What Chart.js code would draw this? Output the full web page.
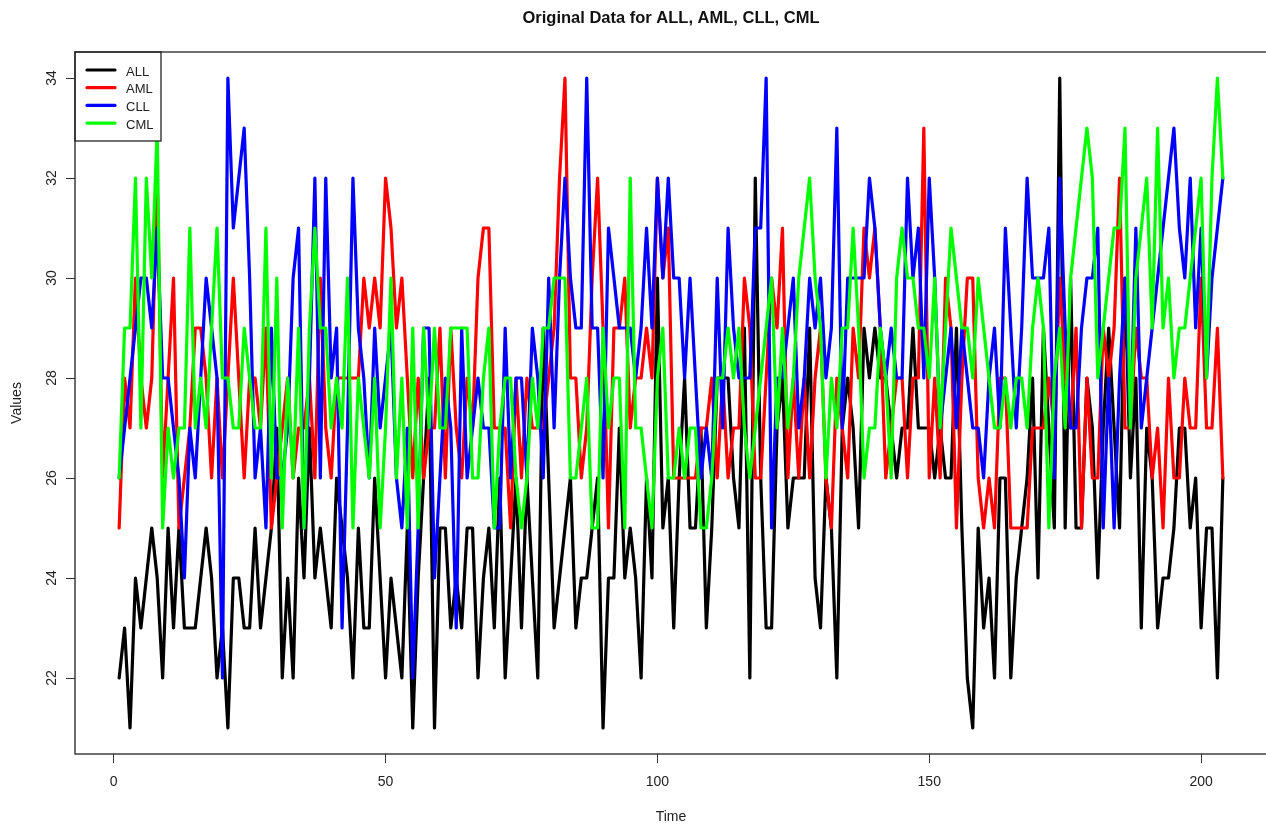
<!DOCTYPE html>
<html lang="en">
  <head>
    <meta charset="UTF-8" />
    <title>Original Data for ALL, AML, CLL, CML</title>
    <style>
      html,
      body {
        margin: 0;
        background: #fff;
        overflow: hidden;
      }
      canvas {
        display: block;
      }
    </style>
  </head>
  <body>
    <canvas id="chart_id" width="1270" height="825"></canvas>
    <script src="https://cdn.jsdelivr.net/npm/chart.js@4/dist/chart.umd.min.js"></script>
    <script>
      const all = [
        22,23,21,24,23,24,25,24,22,25, 23,25,23,23,23,24,25,24,22,23,
        21,24,24,23,23,25,23,24,25,27, 22,24,22,26,24,27,24,25,24,23,
        26,25,24,22,25,23,23,26,24,22, 24,23,22,25,21,24,26,28,21,25,
        25,23,24,23,25,25,22,24,25,23, 26,22,24,26,23,26,24,22,29,26,
        23,24,25,26,23,24,24,25,26,21, 24,24,27,24,25,24,22,26,24,30,
        25,26,23,26,28,25,25,27,23,25, 28,28,28,26,25,29,22,32,26,23,
        23,27,28,25,26,26,26,29,24,23, 26,25,22,27,28,27,25,29,28,29,
        28,28,27,26,27,27,29,27,27,27, 26,27,26,26,29,25,22,21,25,23,
        24,22,26,26,22,24,25,26,28,24, 29,27,25,34,25,30,25,25,28,27,
        24,27,29,27,25,30,26,28,23,27, 26,23,24,24,25,27,27,25,26,23,
        25,25,22,26
      ];
      const aml = [
        25,28,27,30,28,27,28,32,26,28, 30,25,26,27,29,29,28,26,28,26,
        28,30,28,26,28,28,27,29,25,26, 27,28,26,27,27,28,26,30,27,26,
        28,28,28,28,28,30,29,30,29,32, 31,29,30,28,26,28,26,27,27,29,
        26,29,27,26,28,27,30,31,31,27, 27,27,25,28,26,28,27,27,27,28,
        29,32,34,28,28,26,27,30,32,29, 25,29,29,30,27,28,28,29,28,32,
        30,31,26,26,26,26,26,27,27,28, 26,28,26,27,27,30,29,26,26,28,
        30,29,31,26,28,26,28,26,28,29, 26,25,28,27,26,29,28,31,30,31,
        29,26,27,28,28,26,28,28,33,26, 28,26,30,29,25,28,30,30,26,25,
        26,25,28,28,25,25,25,25,27,27, 27,28,27,30,28,27,29,25,28,26,
        26,29,28,29,32,27,27,29,28,28, 26,27,25,28,26,26,28,27,27,30,
        27,27,29,26
      ];
      const cll = [
        26,27,28,29,30,30,29,31,28,28, 27,26,24,27,26,28,30,29,28,22,
        34,31,32,33,30,26,27,25,29,26, 26,27,30,31,25,28,32,26,32,28,
        29,23,27,32,29,28,26,29,27,28, 29,26,25,27,22,25,29,29,24,26,
        28,27,23,29,26,27,28,27,27,25, 25,29,26,28,28,26,29,28,26,30,
        27,30,32,30,29,29,34,29,29,26, 31,30,29,29,29,28,29,31,29,32,
        30,32,30,30,28,30,28,26,27,26, 30,27,31,29,28,28,28,31,31,34,
        25,28,28,29,30,27,28,30,29,30, 28,29,33,27,30,30,30,30,32,31,
        29,28,29,28,28,32,30,31,28,32, 30,27,28,29,27,29,28,27,27,26,
        28,29,27,31,29,27,29,32,30,30, 30,31,26,32,29,27,27,29,30,30,
        31,25,28,25,28,30,27,31,27,28, 29,30,31,32,33,31,30,32,29,31,
        28,30,31,32
      ];
      const cml = [
        26,29,29,32,27,32,30,33,25,27, 26,27,27,31,27,28,27,29,31,28,
        28,27,27,29,28,27,27,31,26,30, 25,28,26,29,25,29,31,29,29,27,
        28,27,30,25,28,27,26,28,25,27, 30,26,28,25,29,25,29,27,29,27,
        27,29,29,29,29,26,26,28,29,25, 27,28,28,26,25,26,28,27,29,29,
        30,30,30,26,26,27,28,25,25,29, 27,28,28,25,32,27,27,26,25,28,
        29,26,26,27,26,27,27,25,25,26, 28,28,29,28,29,27,26,27,28,29,
        30,27,29,27,28,30,31,32,30,29, 26,28,27,29,29,31,29,26,27,27,
        29,28,26,30,31,30,30,29,29,28, 30,27,29,31,30,29,29,28,30,29,
        28,27,27,28,27,28,28,27,29,30, 29,25,28,29,27,30,31,32,33,32,
        28,29,30,31,31,33,27,30,31,32, 29,33,29,30,28,29,29,30,31,32,
        28,32,34,32
      ];
      const time = all.map((v, i) => i + 1);
      const xTicks = [0, 50, 100, 150, 200];
      const yTicks = [22, 24, 26, 28, 30, 32, 34];
      const names = ["ALL", "AML", "CLL", "CML"];
      const colors = ["#000000", "#ff0000", "#0000ff", "#00ff00"];
      const series = [all, aml, cll, cml];

      const fontName = "'Liberation Sans', Arial, sans-serif";

      // R style box around the plot, then the legend on top of it
      const boxPlugin = {
        id: "box",
        afterDatasetsDraw(chart) {
          const ctx = chart.ctx;
          const a = chart.chartArea;
          ctx.save();

          // legend frame, white so it hides the lines below it
          ctx.fillStyle = "#fff";
          ctx.fillRect(a.left, a.top, 86, 89);
          ctx.strokeStyle = "#222";
          ctx.lineWidth = 1.3;
          ctx.strokeRect(a.left, a.top, 86, 89);

          ctx.font = "13px " + fontName;
          ctx.textBaseline = "middle";
          names.forEach((name, i) => {
            const y = a.top + 18 + i * 17.7;
            ctx.strokeStyle = colors[i];
            ctx.lineWidth = 3.2;
            ctx.lineCap = "round";
            ctx.beginPath();
            ctx.moveTo(a.left + 12, y);
            ctx.lineTo(a.left + 40, y);
            ctx.stroke();
            ctx.fillStyle = "#222";
            ctx.fillText(name, a.left + 51, y + 2);
          });

          ctx.strokeStyle = "#222";
          ctx.lineWidth = 1.3;
          ctx.strokeRect(a.left, a.top, a.right - a.left, a.bottom - a.top);
          ctx.restore();
        },
      };

      const ctx = document.getElementById("chart_id").getContext("2d");

      new Chart(ctx, {
        type: "line",
        data: {
          labels: time,
          datasets: series.map((values, i) => ({
            label: names[i],
            data: values,
            borderColor: colors[i],
            backgroundColor: colors[i],
            borderWidth: 3.2,
            borderJoinStyle: "round",
            borderCapStyle: "round",
            pointRadius: 0,
            tension: 0,
            order: series.length - i,
          })),
        },
        plugins: [boxPlugin],
        options: {
          responsive: false,
          animation: false,
          layout: { padding: { right: 3 } },
          plugins: {
            legend: { display: false },
            tooltip: { enabled: false },
            title: {
              display: true,
              text: "Original Data for ALL, AML, CLL, CML",
              color: "#111",
              fullSize: false,
              font: { family: fontName, size: 16.5, weight: "bold", lineHeight: 1 },
              padding: { top: 10, bottom: 25.5 },
            },
          },
          scales: {
            x: {
              type: "linear",
              min: -7.12,
              max: 212.12,
              afterBuildTicks(scale) {
                scale.ticks = xTicks.map((v) => ({ value: v }));
              },
              afterFit(scale) {
                scale.height = 71;
              },
              border: { display: false },
              grid: { drawOnChartArea: false, tickLength: 9, color: "#333" },
              ticks: {
                color: "#222",
                font: { family: fontName, size: 14 },
                padding: 11,
                maxRotation: 0,
              },
              title: {
                display: true,
                text: "Time",
                color: "#222",
                font: { family: fontName, size: 14 },
                padding: { top: 0, bottom: -1 },
              },
            },
            y: {
              min: 20.48,
              max: 34.52,
              afterBuildTicks(scale) {
                scale.ticks = yTicks.map((v) => ({ value: v }));
              },
              afterFit(scale) {
                scale.width = 75;
              },
              border: { display: false },
              grid: { drawOnChartArea: false, tickLength: 9, color: "#333" },
              ticks: {
                color: "#222",
                font: { family: fontName, size: 14 },
                minRotation: 90,
                maxRotation: 90,
                crossAlign: "center",
                padding: 6,
              },
              title: {
                display: true,
                text: "Values",
                color: "#222",
                font: { family: fontName, size: 14 },
                padding: { top: 9, bottom: 0 },
              },
            },
          },
        },
      });
    </script>
  </body>
</html>
